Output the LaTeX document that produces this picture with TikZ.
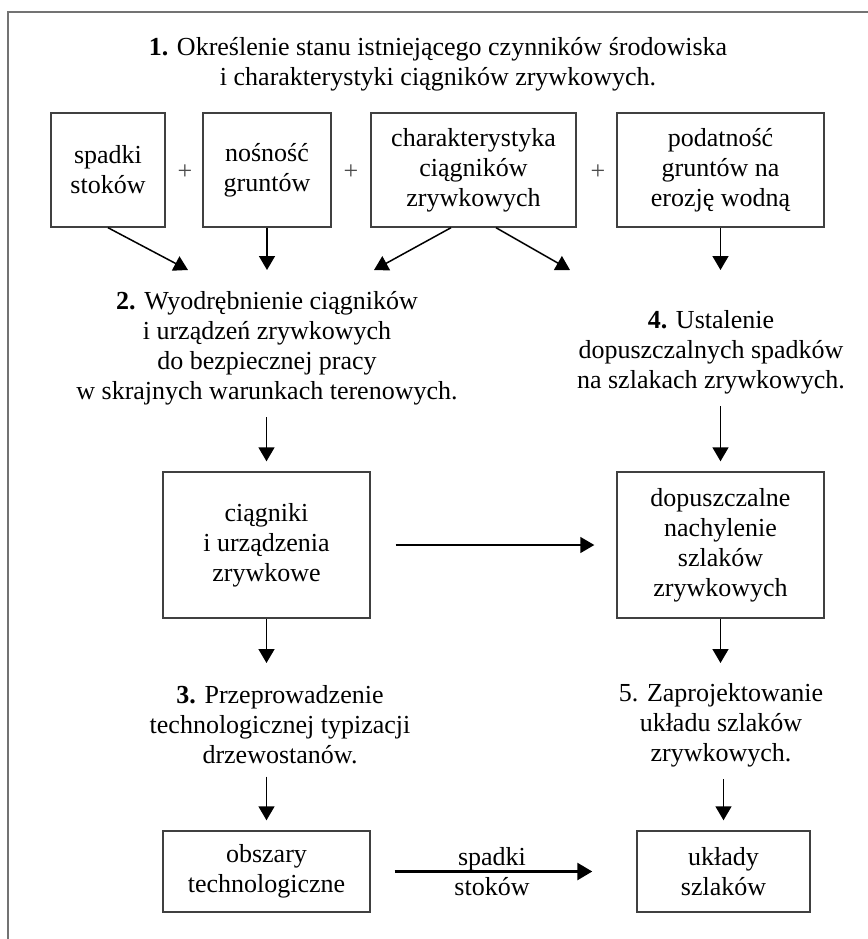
\documentclass[tikz,border=0pt]{standalone}
\usepackage{fontspec}
\setmainfont{Liberation Serif}
\usetikzlibrary{arrows.meta}

\begin{document}
\begin{tikzpicture}[x=0.5pt,y=-0.5pt,
        every node/.style={font=\fontsize{13}{15}\selectfont, align=center, inner sep=0pt},
        pole/.style={draw=black!75, line width=0.7pt},
        strz/.style={-{Triangle[length=7pt,width=8pt]}, line width=0.75pt},
        grubastrz/.style={-{Triangle[length=7.5pt,width=8.5pt]}, line width=1.3pt}]

        \useasboundingbox (0,0) rectangle (868,939);

        % Ramka
        \draw[black!55, line width=0.6pt] (8,939) -- (8,12) -- (868,12);

        % Etap 1
        \node (etap1) at (438,64) {\textbf{1.} Określenie stanu istniejącego czynników środowiska\\i charakterystyki ciągników zrywkowych.};

        % Czynniki
        \node[pole, minimum width=57pt, minimum height=57pt] (spadki) at (108,170) {spadki\\stoków};
        \node[pole, minimum width=64pt, minimum height=57pt] (nosnosc) at (267,170) {nośność\\gruntów};
        \node[pole, minimum width=102.5pt, minimum height=57pt] (charakt) at (473.5,170) {charakterystyka\\ciągników\\zrywkowych};
        \node[pole, minimum width=103.5pt, minimum height=57pt] (podatnosc) at (720.5,170) {podatność\\gruntów na\\erozję wodną};
        \node[text=black!70] (plus1) at (185,172) {+};
        \node[text=black!70] (plus2) at (351,172) {+};
        \node[text=black!70] (plus3) at (598,172) {+};

        % Etapy 2 i 4
        \node (etap2) at (267,348) {\textbf{2.} Wyodrębnienie ciągników\\i urządzeń zrywkowych\\do bezpiecznej pracy\\w skrajnych warunkach terenowych.};
        \node (etap4) at (711,352) {\textbf{4.} Ustalenie\\dopuszczalnych spadków\\na szlakach zrywkowych.};

        % Końce strzałek
        \coordinate (k1) at (188,270);
        \coordinate (k2) at (267,270);
        \coordinate (k3) at (374,270);
        \coordinate (k4) at (570,270);
        \coordinate (k5) at (720.5,270);

        \draw[strz] (spadki.south) -- (k1);
        \draw[strz] (nosnosc.south) -- (k2);
        \draw[strz] ([xshift=-11.25pt]charakt.south) -- (k3);
        \draw[strz] ([xshift=11.25pt]charakt.south) -- (k4);
        \draw[strz] (podatnosc.south) -- (k5);

        % Wyniki etapów 2 i 4
        \node[pole, minimum width=103.5pt, minimum height=73pt] (ciagniki) at (266.5,545) {ciągniki\\i urządzenia\\zrywkowe};
        \node[pole, minimum width=103.5pt, minimum height=73pt] (nachylenie) at (720.5,545) {dopuszczalne\\nachylenie\\szlaków\\zrywkowych};

        \draw[strz, shorten <=6pt, shorten >=5pt] (ciagniki.north |- etap2.south) -- (ciagniki.north);
        \draw[strz, shorten <=6pt, shorten >=5pt] (nachylenie.north |- etap4.south) -- (nachylenie.north);
        \draw[strz, shorten <=12.5pt, shorten >=11pt] (ciagniki.east) -- (nachylenie.west);

        % Etapy 3 i 5
        \node (etap3) at (280,725) {\textbf{3.} Przeprowadzenie\\technologicznej typizacji\\drzewostanów.};
        \node (etap5) at (721,725) {5. Zaprojektowanie\\układu szlaków\\zrywkowych.};

        \coordinate (k6) at (266.5,663);
        \coordinate (k7) at (720.5,663);
        \draw[strz] (ciagniki.south) -- (k6);
        \draw[strz] (nachylenie.south) -- (k7);

        % Wyniki etapów 3 i 5
        \node[pole, minimum width=103.5pt, minimum height=40.5pt] (obszary) at (266.5,871.5) {obszary\\technologiczne};
        \node[pole, minimum width=86.5pt, minimum height=40.5pt] (uklady) at (723.5,871.5) {układy\\szlaków};

        \draw[strz, shorten <=6pt, shorten >=5pt] (obszary.north |- etap3.south) -- (obszary.north);
        \draw[strz, shorten <=6pt, shorten >=5pt] (uklady.north |- etap5.south) -- (uklady.north);
        \draw[grubastrz, shorten <=12pt, shorten >=22pt] (obszary.east) -- (uklady.west)
            node[midway, xshift=-5.75pt] (opis) {spadki\\stoków};

\end{tikzpicture}
\end{document}
